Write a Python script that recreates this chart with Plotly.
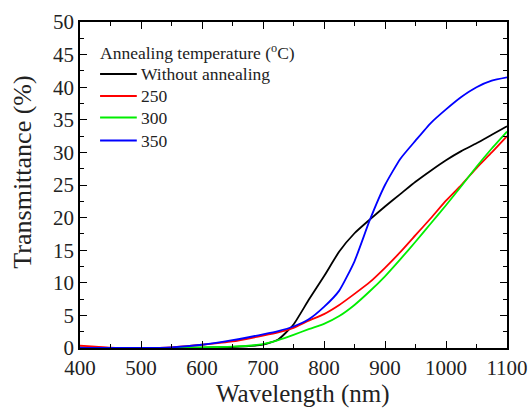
import plotly.graph_objects as go

# Wavelength grid (nm)
wavelength = [400, 425, 450, 500, 550, 600, 650, 700, 725, 750, 775, 800, 825, 850,
              875, 900, 925, 950, 975, 1000, 1025, 1050, 1075, 1100]

# Transmittance (%) for each annealing condition
t_none = [0.1, 0.05, 0.0, 0.0, 0.0, 0.05, 0.15, 0.5, 1.3, 3.6, 7.4, 11.0, 14.8, 17.6,
          19.7, 21.7, 23.6, 25.5, 27.2, 28.8, 30.2, 31.4, 32.7, 34.0]
t_250 = [0.35, 0.2, 0.05, 0.0, 0.1, 0.5, 1.0, 1.9, 2.4, 3.1, 4.2, 5.2, 6.6, 8.3,
         10.1, 12.3, 14.7, 17.3, 19.9, 22.6, 25.0, 27.6, 30.0, 32.5]
t_300 = [0.0, 0.0, 0.0, 0.0, 0.0, 0.1, 0.2, 0.6, 1.2, 2.0, 2.9, 3.7, 4.9, 6.6,
         8.7, 11.0, 13.6, 16.3, 19.1, 21.9, 24.8, 27.8, 30.6, 33.2]
t_350 = [0.0, 0.0, 0.0, 0.0, 0.1, 0.5, 1.2, 2.1, 2.6, 3.3, 4.4, 6.3, 8.8, 13.3,
         19.6, 25.0, 29.0, 31.8, 34.5, 36.6, 38.5, 40.0, 41.0, 41.5]

series_names = ["Without annealing", "250", "300", "350"]
series_values = [t_none, t_250, t_300, t_350]
series_colors = ["#000000", "#ff0000", "#00ee00", "#0000ff"]

legend_title = "Annealing temperature (<sup>o</sup>C)"
x_title = "Wavelength (nm)"
y_title = "Transmittance (%)"

FONT = "Times New Roman"
TEXT_COLOR = "#222222"

fig = go.Figure()
for name, vals, color in zip(series_names, series_values, series_colors):
    fig.add_trace(go.Scatter(
        x=wavelength, y=vals, mode="lines", name=name, showlegend=False,
        line=dict(color=color, width=1.8, shape="spline", smoothing=0.5),
    ))

# Compact key drawn in paper coordinates (tighter row spacing than the built-in legend)
key_x0, key_x1, key_text_x = 0.047, 0.133, 0.139
key_title_y = 0.908
key_row_y = [0.8405, 0.773, 0.707, 0.6365]
fig.add_annotation(
    x=0.042, y=key_title_y, xref="paper", yref="paper", xanchor="left", yanchor="middle",
    text=legend_title, showarrow=False, font=dict(family=FONT, size=17.5, color=TEXT_COLOR),
)
for name, color, ry in zip(series_names, series_colors, key_row_y):
    fig.add_shape(type="line", xref="paper", yref="paper",
                  x0=key_x0, x1=key_x1, y0=ry, y1=ry,
                  line=dict(color=color, width=1.8))
    fig.add_annotation(
        x=key_text_x, y=ry, xref="paper", yref="paper", xanchor="left", yanchor="middle",
        text=name, showarrow=False, font=dict(family=FONT, size=17.5, color=TEXT_COLOR),
    )

# Axis titles placed as annotations so they can sit slightly off-centre
fig.add_annotation(
    x=0.522, y=-0.141, xref="paper", yref="paper", xanchor="center", yanchor="middle",
    text=x_title, showarrow=False, font=dict(family=FONT, size=25, color=TEXT_COLOR),
)
fig.add_annotation(
    x=-0.1335, y=0.541, xref="paper", yref="paper", xanchor="center", yanchor="middle",
    text=y_title, textangle=-90, showarrow=False,
    font=dict(family=FONT, size=26, color=TEXT_COLOR),
)

axis_common = dict(
    showline=True, linecolor="#000000", linewidth=1.5, mirror="ticks",
    ticks="inside", ticklen=7, tickwidth=1.2, tickcolor="#000000",
    showgrid=False, zeroline=False, automargin=False,
    tickfont=dict(family=FONT, size=21, color=TEXT_COLOR),
)

fig.update_xaxes(
    range=[400, 1100], dtick=100, tick0=400,
    minor=dict(ticks="inside", ticklen=4, dtick=50, tickcolor="#000000"),
    **axis_common,
)
fig.update_yaxes(
    range=[0, 50], dtick=5, tick0=0,
    minor=dict(ticks="inside", ticklen=4, dtick=2.5, tickcolor="#000000"),
    **axis_common,
)

fig.update_layout(
    width=529, height=408,
    margin=dict(l=80, r=22, t=22, b=60),
    plot_bgcolor="#ffffff", paper_bgcolor="#ffffff",
    showlegend=False,
)

fig.write_html("out.html")
